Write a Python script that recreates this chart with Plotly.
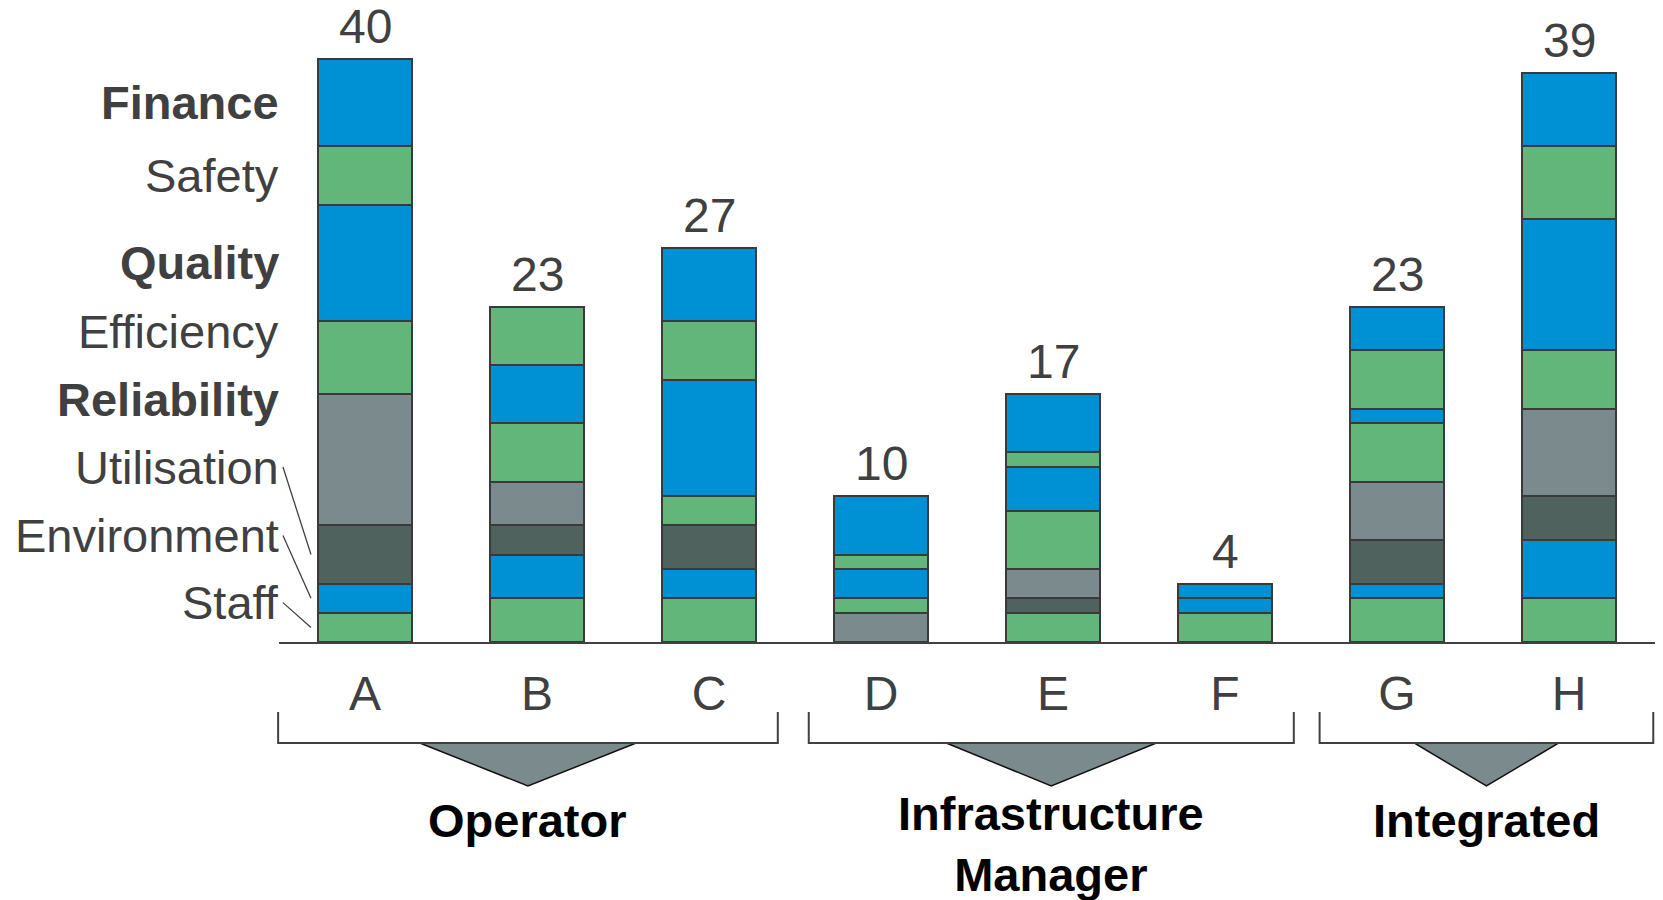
import plotly.graph_objects as go

# ---------------- data ----------------
categories = ["A", "B", "C", "D", "E", "F", "G", "H"]
series_names = ["Staff", "Environment", "Utilisation", "Reliability",
                "Efficiency", "Quality", "Safety", "Finance"]
staff       = [2, 3, 3, 0, 2, 2, 3, 3]
environment = [2, 3, 2, 0, 0, 1, 1, 4]
utilisation = [4, 2, 3, 0, 1, 0, 3, 3]
reliability = [9, 3, 0, 2, 2, 0, 4, 6]
efficiency  = [5, 4, 2, 1, 4, 0, 4, 4]
quality     = [8, 4, 8, 2, 3, 0, 1, 9]
safety      = [4, 4, 4, 1, 1, 0, 4, 5]
finance     = [6, 0, 5, 4, 4, 1, 3, 5]
bold_series = ["Finance", "Quality", "Reliability"]
group_labels = ["Operator", "Infrastructure<br>Manager", "Integrated"]
group_members = [["A", "B", "C"], ["D", "E", "F"], ["G", "H"]]

series_values = [staff, environment, utilisation, reliability,
                 efficiency, quality, safety, finance]

# ---------------- style / layout constants ----------------
BLUE = "#0091D5"
GREEN = "#62B67A"
GREY = "#7B8A8D"
DARK = "#4F625E"
EDGE = "#3a3a3a"
TEXT = "#404040"
series_colors = [GREEN, BLUE, DARK, GREY, GREEN, BLUE, GREEN, BLUE]
FONT = "Liberation Sans, Arial, sans-serif"

PAGE_OFFSET = 8          # default body margin of the html page
W, H = 1655, 892
M_L, M_R, M_T, M_B = 271, 8, 0, 258
PLOT_H = H - M_T - M_B
PX_PER_UNIT = 14.58
Y_MAX = PLOT_H / PX_PER_UNIT

# vertical label positions (data units) for the left-hand series labels
label_y = [2.7, 7.3, 12.0, 16.6, 21.3, 26.0, 32.0, 37.0]
leader_series = ["Staff", "Environment", "Utilisation"]
leader_x0, leader_x1 = -0.477, -0.314
label_x_paper = 0.0015

# bracket spans in category-axis units
group_spans = [(-0.505, 2.40), (2.58, 5.40), (5.55, 7.49)]
n_cat = len(categories)


def xpaper(xd):
    return (xd + 0.5) / n_cat


def ypaper(page_px):
    # page_px: pixel row on the page (0 = top of window)
    fig_px = page_px - PAGE_OFFSET
    return (H - M_B - fig_px) / PLOT_H


fig = go.Figure()
for name, vals, col in zip(series_names, series_values, series_colors):
    fig.add_trace(go.Bar(
        x=categories, y=vals, name=name,
        marker=dict(color=col, line=dict(color=EDGE, width=2)),
    ))

annotations = []
# totals above bars
totals = [sum(v[i] for v in series_values) for i in range(n_cat)]
for c, t in zip(categories, totals):
    annotations.append(dict(
        x=c, y=t, xref="x", yref="y", text=str(t), showarrow=False,
        yanchor="bottom", yshift=5, borderpad=0,
        font=dict(size=48, color=TEXT, family=FONT)))

# series labels on the left
for name, ly in zip(series_names, label_y):
    txt = f"<b>{name}</b>" if name in bold_series else name
    annotations.append(dict(
        x=label_x_paper, y=ly, xref="paper", yref="y", text=txt, showarrow=False,
        xanchor="right", yanchor="middle", font=dict(size=47, color=TEXT, family=FONT)))

shapes = []
# leader lines from labels to the first bar's segments
first_vals = [v[0] for v in series_values]
cum = 0
centers = {}
for name, v in zip(series_names, first_vals):
    centers[name] = cum + v / 2
    cum += v
for name in leader_series:
    ly = label_y[series_names.index(name)]
    shapes.append(dict(type="line", xref="x", yref="y",
                       x0=leader_x0, y0=ly, x1=leader_x1, y1=centers[name],
                       line=dict(color=TEXT, width=1.3)))

# group brackets, triangles and labels
y_top, y_bot, y_tip = ypaper(712), ypaper(743), ypaper(786)
for (s0, s1), lab in zip(group_spans, group_labels):
    x0, x1 = xpaper(s0), xpaper(s1)
    cx = (x0 + x1) / 2
    half = 0.2165 * (x1 - x0)
    shapes.append(dict(type="path", xref="paper", yref="paper",
                       path=f"M {cx-half},{y_bot} L {cx+half},{y_bot} L {cx},{y_tip} Z",
                       fillcolor=GREY, line=dict(color="#111111", width=1.5)))
    shapes.append(dict(type="path", xref="paper", yref="paper",
                       path=f"M {x0},{y_top} L {x0},{y_bot} L {x1},{y_bot} L {x1},{y_top}",
                       line=dict(color=TEXT, width=2)))
    ly = ypaper(844) if "<br>" in lab else ypaper(820)
    annotations.append(dict(
        x=cx, y=ly, xref="paper", yref="paper", text=f"<b>{lab}</b>", showarrow=False,
        xanchor="center", yanchor="middle",
        font=dict(size=47, color="#000000", family=FONT)))

fig.update_layout(
    width=W, height=H,
    margin=dict(l=M_L, r=M_R, t=M_T, b=M_B),
    barmode="stack", bargap=0.45,
    showlegend=False,
    plot_bgcolor="white", paper_bgcolor="white",
    font=dict(family=FONT, color=TEXT),
    annotations=annotations, shapes=shapes,
    xaxis=dict(type="category", range=[-0.5, 7.5], showline=True,
               linecolor=TEXT, linewidth=2, showgrid=False, zeroline=False,
               ticks="outside", ticklen=8, tickcolor="rgba(0,0,0,0)",
               tickfont=dict(size=48, color=TEXT, family=FONT)),
    yaxis=dict(visible=False, range=[0, Y_MAX], showgrid=False, zeroline=False),
)

fig.write_html("out.html")
